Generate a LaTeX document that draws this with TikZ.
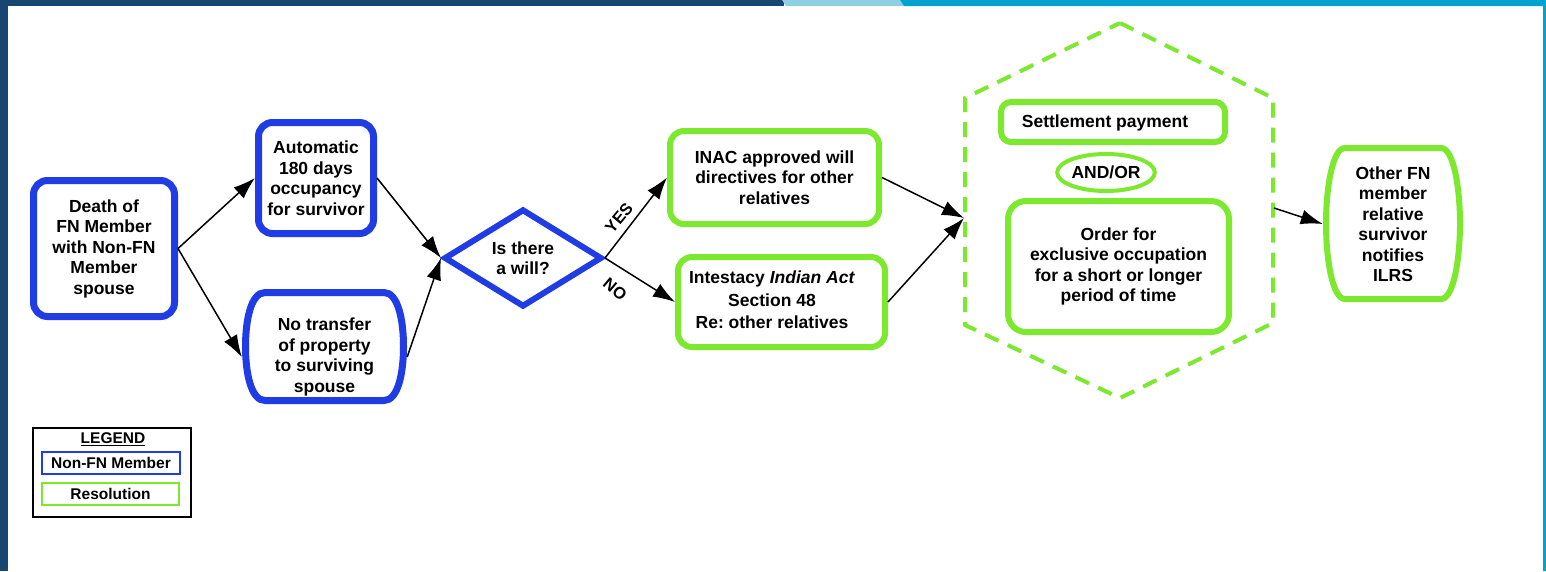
\documentclass[tikz,border=0pt]{standalone}
\usepackage{fontspec}
\setmainfont{Liberation Sans}
\usetikzlibrary{arrows.meta,shapes.geometric}
\definecolor{dkblue}{RGB}{23,70,115}
\definecolor{ltblue}{RGB}{141,208,226}
\definecolor{cyanbar}{RGB}{0,163,208}
\definecolor{nblue}{RGB}{32,60,228}
\definecolor{ngreen}{RGB}{124,232,46}
\frenchspacing
\begin{document}
\begin{tikzpicture}[x=1pt,y=-1pt,
  txt/.style={font=\fontsize{17.5}{20.5}\selectfont\bfseries, align=center, inner sep=0pt},
  bluebox/.style={txt, draw=nblue, line width=7pt, rounded corners=14pt},
  greenbox/.style={txt, draw=ngreen, line width=6pt, rounded corners=14pt},
  arr/.style={-{Latex[length=22pt,width=15pt]}, line width=1.5pt, black},
  lbl/.style={font=\fontsize{16.5}{18}\selectfont\bfseries, inner sep=0pt},
  legfont/.style={font=\fontsize{15.5}{18}\selectfont\bfseries, inner sep=0pt, align=center}]
% background frame
\fill[white] (0,0) rectangle (1546,571);
\fill[dkblue] (0,0) rectangle (8,571);
\fill[dkblue] (0,0) rectangle (784,6);
\fill[ltblue] (782,0) -- (900,0) -- (904,6) -- (786,6) -- cycle;
\fill[cyanbar] (900,0) -- (1546,0) -- (1546,6) -- (904,6) -- cycle;
\fill[cyanbar] (1543,0) rectangle (1546,571);
\useasboundingbox (0,0) rectangle (1546,571);

% left part
\node[bluebox, minimum width=141pt, minimum height=136pt] (death) at (104,248.5)
  {Death of\\FN Member\\with Non-FN\\Member\\spouse};
\node[bluebox, minimum width=115pt, minimum height=111pt] (auto) at (316,178)
  {Automatic\\180 days\\occupancy\\for survivor};
\node[txt, minimum width=165pt, minimum height=115pt] (notr) at (324.5,357)
  {No transfer\\of property\\to surviving\\spouse};
\draw[nblue, line width=7pt] (265,292.5) -- (384,292.5)
  .. controls (398,292.5) and (403.5,320) .. (403.5,346.5)
  .. controls (403.5,373) and (398,400.5) .. (384,400.5) -- (265,400.5)
  .. controls (251,400.5) and (245.5,373) .. (245.5,346.5)
  .. controls (245.5,320) and (251,292.5) .. (265,292.5) -- cycle;
\node[txt, diamond, draw=nblue, line width=6pt, minimum width=158pt, minimum height=98pt] (will) at (523,258)
  {Is there\\a will?};

% middle
\node[greenbox, minimum width=209pt, minimum height=93pt] (inac) at (774.5,177.5)
  {INAC approved will\\directives for other\\relatives};
\node[greenbox, minimum width=207pt, minimum height=90pt] (intes) at (781.5,302) {};
\node[txt] (intestxt) at (772,300) {Intestacy \textit{Indian Act}\\[2pt]Section 48\\[2pt]Re: other relatives};

% hexagon group
\draw[ngreen, line width=4pt, dash pattern=on 15pt off 10pt]
  (1120,23) -- (1273,98) -- (1273,323) -- (1120,398) -- (965,325) -- (965,98) -- cycle;
\coordinate (hexin) at (964,218);
\coordinate (hexout) at (1274,208);
\node[greenbox, rounded corners=10pt, minimum width=224pt, minimum height=40pt] (settle) at (1113,122) {};
\node[txt] (settletxt) at (1105,123) {Settlement payment};
\node[txt, ellipse, draw=ngreen, line width=4pt, minimum width=88pt, minimum height=37pt] (andor) at (1106,172.5) {AND/OR};
\node[greenbox, rounded corners=18pt, minimum width=221pt, minimum height=131pt] (order) at (1118.5,266.5)
  {Order for\\exclusive occupation\\for a short or longer\\period of time};

% right node
\node[txt, minimum width=140pt, minimum height=157pt] (other) at (1393,224)
  {Other FN\\member\\relative\\survivor\\notifies\\ILRS};
\draw[ngreen, line width=6pt] (1345,148) -- (1441,148)
  .. controls (1454,148) and (1460,190) .. (1460,223.5)
  .. controls (1460,257) and (1454,299) .. (1441,299) -- (1345,299)
  .. controls (1332,299) and (1326,257) .. (1326,223.5)
  .. controls (1326,190) and (1332,148) .. (1345,148) -- cycle;

% connectors
\draw[arr] (death.east) -- (auto.west);
\draw[arr] (death.east) -- (notr.west);
\draw[arr] (auto.east) -- (will.west);
\draw[arr] (notr.east) -- (will.west);
\draw[arr] (will.east) -- (inac.west);
\draw[arr] (will.east) -- (intes.west);
\node[lbl, rotate=50] (yes) at (619,218) {YES};
\node[lbl, rotate=-40] (no) at (615,289) {NO};
\draw[arr] (inac.east) -- (hexin);
\draw[arr] (intes.east) -- (hexin);
\draw[arr] (hexout) -- (other.west);

% legend
\node[draw=black, line width=2pt, minimum width=158pt, minimum height=89pt, inner sep=0pt] (legend) at (112,472.5) {};
\node[legfont] (legtitle) at (113,439) {\underline{LEGEND}};
\node[legfont, draw=nblue, line width=2.5pt, minimum width=138pt, minimum height=22pt] (legblue) at (111,463) {Non-FN Member};
\node[legfont, draw=ngreen, line width=2.5pt, minimum width=137pt, minimum height=22pt] (leggreen) at (110.5,494) {Resolution};
\end{tikzpicture}
\end{document}
